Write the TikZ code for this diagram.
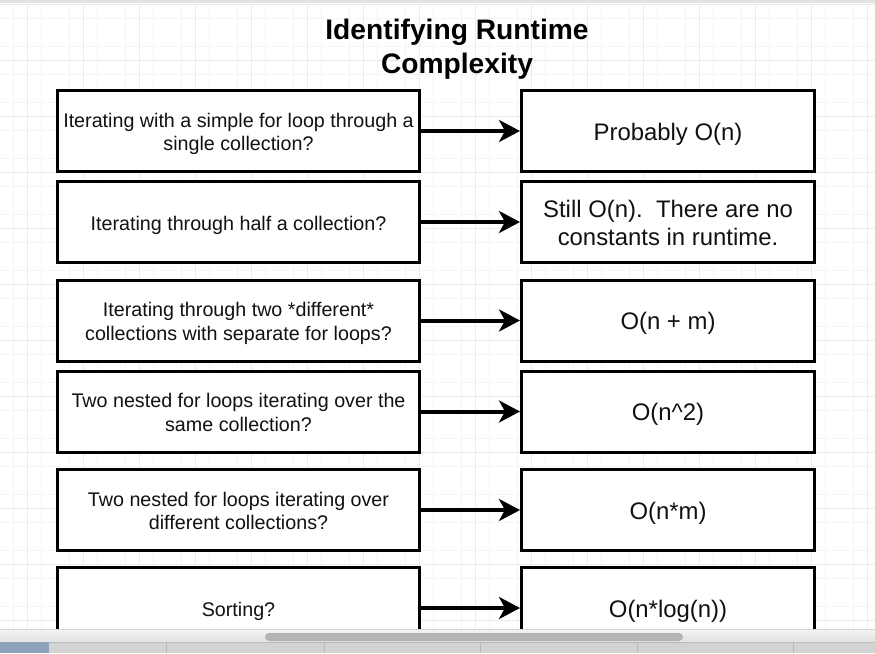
\documentclass[tikz,border=0pt]{standalone}
\usepackage{fontspec}
\setmainfont{Liberation Sans}
\usetikzlibrary{arrows.meta}
\definecolor{gridmaj}{HTML}{EBEBEB}
\definecolor{gridmin}{HTML}{F5F5F5}
\definecolor{topstrip}{HTML}{E2E2E2}
\definecolor{barlight}{HTML}{F3F3F3}
\definecolor{bardark}{HTML}{E3E3E3}
\definecolor{pill}{HTML}{B3B3B3}
\definecolor{tabbar}{HTML}{D3D3D3}
\definecolor{tabline}{HTML}{BABABA}
\definecolor{tabblue}{HTML}{8EA2BB}
\definecolor{inktext}{HTML}{111111}
\newcommand\mytopstrut{\rule{0pt}{\dimexpr0.7\baselineskip+7pt\relax}}
\begin{document}
\begin{tikzpicture}[x=1pt,y=-1pt,
  qbox/.style={draw=black, line width=3pt, fill=white, minimum width=362pt,
    minimum height=81pt, align=center, inner sep=0pt, text=inktext,
    font=\fontsize{19.7}{23.4}\selectfont},
  abox/.style={draw=black, line width=3pt, fill=white, minimum width=293pt,
    minimum height=81pt, align=center, inner sep=0pt, text=inktext,
    font=\fontsize{23.9}{28}\selectfont},
  arr/.style={line width=4pt, -{Stealth[length=21pt,width=22pt,inset=6pt]}},
  ttl/.style={anchor=base, text=black, font=\fontsize{28.2}{33}\selectfont\bfseries}]
\useasboundingbox (0,0) rectangle (875,653);
\fill[white] (0,0) rectangle (875,653);
% grid
\foreach \x in {13,41,...,875} \draw[gridmin, line width=0.8pt] (\x,0) -- (\x,653);
\foreach \y in {18,46,...,653} \draw[gridmin, line width=0.8pt] (0,\y) -- (875,\y);
\foreach \x in {27,83,...,875} \draw[gridmaj, line width=1pt] (\x,0) -- (\x,653);
\foreach \y in {4,60,...,653} \draw[gridmaj, line width=1pt] (0,\y) -- (875,\y);
\fill[topstrip] (0,0) rectangle (875,3);
% title
\node[ttl] (title1) at (457,39.5) {Identifying Runtime};
\node[ttl] (title2) at (457,73) {Complexity};
% rows
\node[qbox] (q1) at (238.5,131) {\mytopstrut Iterating with a simple for loop through a\\\strut single collection?\strut};
\node[abox] (a1) at (668,131) {\mytopstrut Probably O(n)\strut};
\node[qbox] (q2) at (238.5,222) {\mytopstrut Iterating through half a collection?\strut};
\node[abox] (a2) at (668,222) {\mytopstrut Still O(n).\ \ There are no\\\strut constants in runtime.\strut};
\node[qbox] (q3) at (238.5,320.5) {\mytopstrut Iterating through two *different*\\\strut collections with separate for loops?\strut};
\node[abox] (a3) at (668,320.5) {\mytopstrut O(n + m)\strut};
\node[qbox] (q4) at (238.5,411.5) {\mytopstrut Two nested for loops iterating over the\\\strut same collection?\strut};
\node[abox] (a4) at (668,411.5) {\mytopstrut O(n\textasciicircum 2)\strut};
\node[qbox] (q5) at (238.5,510) {\mytopstrut Two nested for loops iterating over\\\strut different collections?\strut};
\node[abox] (a5) at (668,510) {\mytopstrut O(n*m)\strut};
\node[qbox] (q6) at (238.5,608) {\mytopstrut Sorting?\strut};
\node[abox] (a6) at (668,608) {\mytopstrut O(n*log(n))\strut};
\foreach \i in {1,...,6} \draw[arr] (q\i.east) -- (a\i.west);
% bottom window chrome
\shade[top color=barlight, bottom color=bardark] (0,629) rectangle (875,642);
\draw[tabline!60, line width=0.6pt] (0,629.3) -- (875,629.3);
\fill[pill, rounded corners=4pt] (265,633) rectangle (683,641);
\fill[tabbar] (0,642) rectangle (875,653);
\draw[tabline, line width=0.8pt] (0,642.4) -- (875,642.4);
\fill[tabblue] (0,642) rectangle (49,653);
\foreach \x in {166,324,480,637,793} \draw[tabline, line width=1pt] (\x,642) -- (\x,653);
\end{tikzpicture}
\end{document}
